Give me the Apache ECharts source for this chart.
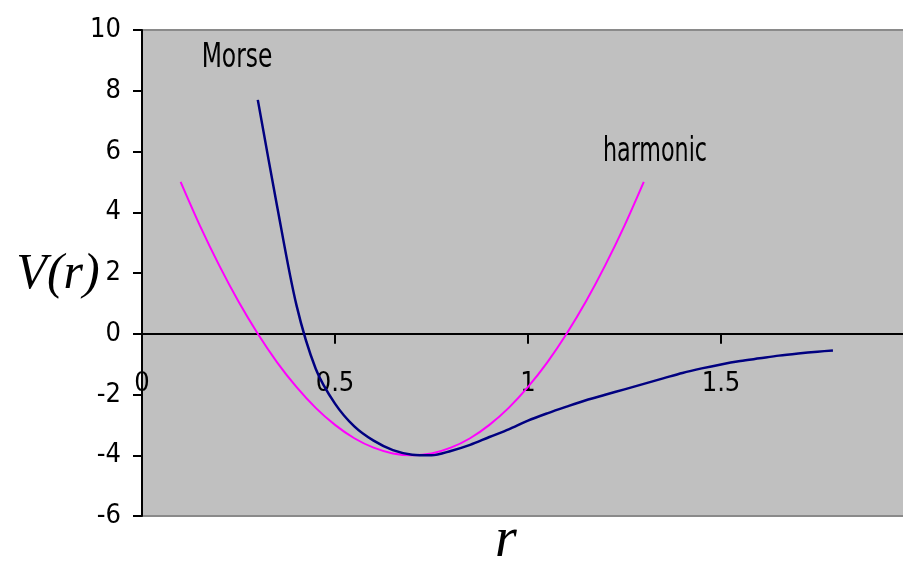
<!DOCTYPE html>
<html>
<head>
<meta charset="utf-8">
<script src="https://cdn.jsdelivr.net/npm/echarts@6/dist/echarts.min.js"></script>
<style>
  html, body { margin: 0; padding: 0; background: #ffffff; }
  #chart { width: 903px; height: 563px; }
</style>
</head>
<body>
<div id="chart"></div>
<script>
// Interatomic potential V(r): Morse curve vs. harmonic approximation
const morseR = [0.30, 0.35, 0.40, 0.45, 0.50, 0.55, 0.60, 0.65, 0.70, 0.75, 0.80, 0.85, 0.90, 0.95, 1.00,
                1.05, 1.10, 1.15, 1.20, 1.25, 1.30, 1.35, 1.40, 1.45, 1.50, 1.55, 1.60, 1.65, 1.70, 1.75, 1.79];
const morseV = [7.7, 4.2, 0.95, -1.15, -2.3, -3.05, -3.52, -3.83, -3.98, -4.0, -3.86, -3.66, -3.4, -3.15, -2.86,
                -2.62, -2.4, -2.19, -2.01, -1.83, -1.65, -1.47, -1.29, -1.14, -1.01, -0.9, -0.81, -0.72, -0.65, -0.59, -0.55];

const harmonicR = [0.10, 0.15, 0.20, 0.25, 0.30, 0.35, 0.40, 0.45, 0.50, 0.55, 0.60, 0.65, 0.70,
                   0.75, 0.80, 0.85, 0.90, 0.95, 1.00, 1.05, 1.10, 1.15, 1.20, 1.25, 1.30];
const harmonicV = [5.0, 3.56, 2.25, 1.06, 0.0, -0.94, -1.75, -2.44, -3.0, -3.44, -3.75, -3.94, -4.0,
                   -3.94, -3.75, -3.44, -3.0, -2.44, -1.75, -0.94, 0.0, 1.06, 2.25, 3.56, 5.0];

const yTicks = [-6, -4, -2, 0, 2, 4, 6, 8, 10];
const xTickLabels = { 0: '0', 0.5: '0.5', 1: '1', 1.5: '1.5' };

const pairs = (xs, ys) => xs.map((x, i) => [x, ys[i]]);

const narrow = "'Liberation Sans Narrow', 'DejaVu Sans Condensed', 'Arial Narrow', sans-serif";
const serif = "'Liberation Serif', 'DejaVu Serif', 'Times New Roman', serif";

// plot box
const gridTop = 30, gridBottom = 47, chartH = 563;
const yMin = yTicks[0], yMax = yTicks[yTicks.length - 1];
const plotH = chartH - gridTop - gridBottom;
// lift the r axis from the bottom edge up to V = 0
const zeroLift = plotH * (0 - yMin) / (yMax - yMin);

const chart = echarts.init(document.getElementById('chart'), null, { renderer: 'canvas' });

chart.setOption({
  animation: false,
  backgroundColor: '#ffffff',
  grid: {
    left: 142, top: gridTop, right: -11, bottom: gridBottom,
    outerBoundsMode: 'none',
    containLabel: false,
    show: true,
    backgroundColor: '#c0c0c0',
    borderColor: '#8a8a8a',
    borderWidth: 2
  },
  xAxis: {
    type: 'value',
    min: 0, max: 2, interval: 0.5,
    offset: -zeroLift,
    axisLine: { onZero: false, lineStyle: { color: '#000000', width: 2 } },
    axisTick: { show: true, length: 10, lineStyle: { color: '#000000', width: 2 } },
    axisLabel: {
      margin: 37,
      color: '#000000',
      fontFamily: narrow,
      fontSize: 27,
      formatter: v => (xTickLabels[v] !== undefined ? xTickLabels[v] : '')
    },
    splitLine: { show: false }
  },
  yAxis: {
    type: 'value',
    min: yMin, max: yMax, interval: 2,
    axisLine: { onZero: false, lineStyle: { color: '#000000', width: 2 } },
    axisTick: { show: true, length: 9, lineStyle: { color: '#000000', width: 2 } },
    axisLabel: {
      margin: 21,
      color: '#000000',
      fontFamily: narrow,
      fontSize: 27
    },
    splitLine: { show: false }
  },
  series: [
    {
      name: 'harmonic',
      type: 'line',
      data: pairs(harmonicR, harmonicV),
      showSymbol: false,
      smooth: 0.3,
      lineStyle: { color: '#ff00ff', width: 2 },
      z: 3
    },
    {
      name: 'Morse',
      type: 'line',
      data: pairs(morseR, morseV),
      showSymbol: false,
      smooth: 0.3,
      lineStyle: { color: '#000080', width: 2.5 },
      z: 4
    }
  ],
  graphic: [
    {
      type: 'text', x: 237, y: 58, scaleY: 1.32, z: 10,
      style: { text: 'Morse', fill: '#000000', font: '26px ' + narrow, textAlign: 'center', textVerticalAlign: 'middle' }
    },
    {
      type: 'text', x: 655, y: 152, scaleX: 0.95, scaleY: 1.32, z: 10,
      style: { text: 'harmonic', fill: '#000000', font: '26px ' + narrow, textAlign: 'center', textVerticalAlign: 'middle' }
    },
    {
      type: 'text', x: 58, y: 275, z: 10,
      style: { text: 'V(r)', fill: '#000000', font: 'italic 50px ' + serif, textAlign: 'center', textVerticalAlign: 'middle' }
    },
    {
      type: 'text', x: 506, y: 541, z: 10,
      style: { text: 'r', fill: '#000000', font: 'italic 56px ' + serif, textAlign: 'center', textVerticalAlign: 'middle' }
    }
  ]
});
</script>
</body>
</html>
